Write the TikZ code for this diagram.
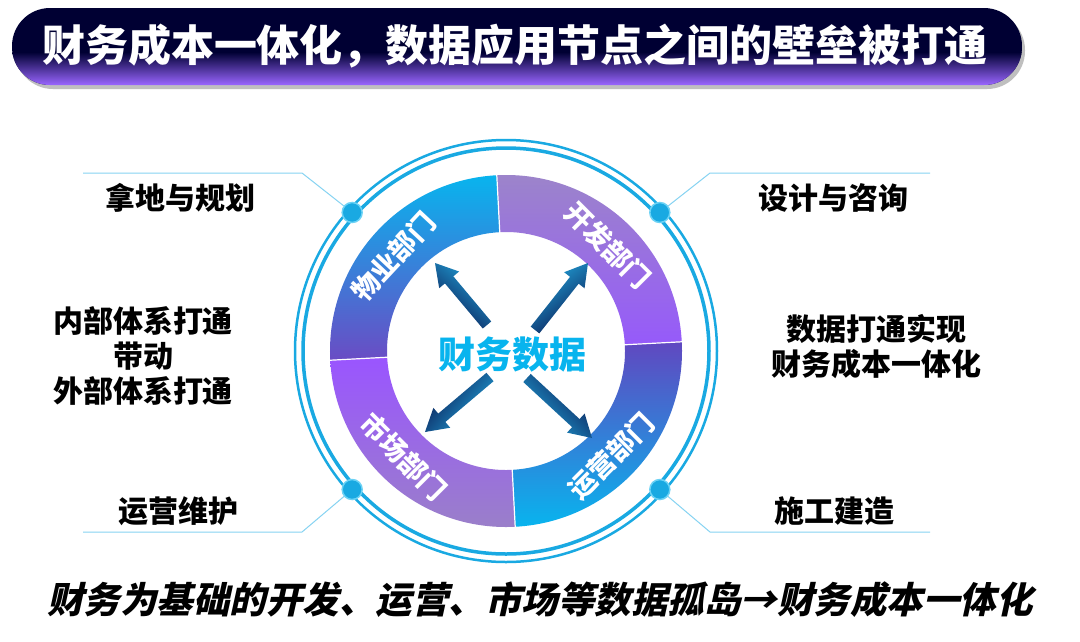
\documentclass[tikz,border=0pt]{standalone}
\usepackage{fontspec}
\newfontfamily\cjk{Noto Sans CJK SC}
\newfontfamily\cjkit[FakeSlant=0.22]{Noto Sans CJK SC}
\usetikzlibrary{calc}
\definecolor{navy}{HTML}{000033}
\definecolor{tpurple}{HTML}{9A66FF}
\definecolor{ringc}{HTML}{19A9E2}
\definecolor{linec}{HTML}{86D3F2}
\definecolor{cy}{HTML}{08B4EE}
\definecolor{arrdark}{HTML}{0A1650}
\definecolor{arrcy}{HTML}{22A8DE}
\tikzset{
  side/.style={font=\cjk\bfseries\fontsize{30}{35}\selectfont, align=center, text=black},
  seglabel/.style={font=\cjk\bfseries\fontsize{27}{27}\selectfont, text=white},
  conn/.style={draw=linec, line width=1pt},
  dotn/.style={circle, fill=ringc, draw=cy!60!white, line width=1.5pt, minimum size=20pt, inner sep=0pt},
}
\newcommand{\fatarrow}[4]{%
  \coordinate (#1a) at #2; \coordinate (#1b) at #3;
  \coordinate (#1h) at ($(#1b)!22pt!(#1a)$);
  \shade[top color=arrcy, bottom color=arrdark, shading angle=#4]
    ($(#1a)!5.5pt!90:(#1b)$) -- ($(#1h)!5.5pt!-90:(#1a)$) -- ($(#1h)!13pt!-90:(#1a)$) -- (#1b)
    -- ($(#1h)!13pt!90:(#1a)$) -- ($(#1h)!5.5pt!90:(#1a)$) -- ($(#1a)!5.5pt!-90:(#1b)$) -- cycle;
}
\begin{document}
\begin{tikzpicture}[x=1pt,y=-1pt]
\useasboundingbox[fill=white] (0,0) rectangle (1080,641);
% title bar
\fill[black!25] (15,12) [rounded corners=38pt] rectangle (1025,89);
\begin{scope}
  \clip[rounded corners=38pt] (12,8) rectangle (1022,85);
  \fill[navy] (12,8) rectangle (1022,85);
  \shade[top color=navy, bottom color=tpurple] (12,52) rectangle (1022,85);
\end{scope}
\node[font=\cjk\bfseries\fontsize{43}{43}\selectfont, text=white] (title) at (515,46) {财务成本一体化，数据应用节点之间的壁垒被打通};
% ring
\begin{scope}[shift={(506,351)}, y=1pt]
  \draw[ringc, line width=2.5pt] (0,0) circle (211);
  \draw[ringc, line width=3.5pt] (0,0) circle (203);
  \shade[top color={rgb,255:red,156;green,133;blue,201}, bottom color={rgb,255:red,150;green,90;blue,250}]
    (3:176) arc[start angle=3,end angle=93,radius=176] -- (93:119) arc[start angle=93,end angle=3,radius=119] -- cycle;
  \shade[top color=cy, bottom color={rgb,255:red,106;green,76;blue,196}]
    (93:176) arc[start angle=93,end angle=183,radius=176] -- (183:119) arc[start angle=183,end angle=93,radius=119] -- cycle;
  \shade[top color={rgb,255:red,154;green,85;blue,255}, bottom color={rgb,255:red,154;green,128;blue,200}]
    (183:176) arc[start angle=183,end angle=273,radius=176] -- (273:119) arc[start angle=273,end angle=183,radius=119] -- cycle;
  \shade[top color={rgb,255:red,96;green,72;blue,192}, bottom color=cy]
    (273:176) arc[start angle=273,end angle=363,radius=176] -- (363:119) arc[start angle=363,end angle=273,radius=119] -- cycle;
  \foreach \a in {3,93,183,273} \draw[white, line width=1.2pt] (\a:118) -- (\a:177);
  \node[seglabel, rotate=47] (wy) at (140:147) {物业部门};
  \node[seglabel, rotate=-45] (kf) at (46:147) {开发部门};
  \node[seglabel, rotate=-45] (sc) at (226:147) {市场部门};
  \node[seglabel, rotate=45] (yy) at (315:149) {运营部门};
  \node[dotn] (d1) at (138:207) {};
  \node[dotn] (d2) at (42:207) {};
  \node[dotn] (d3) at (222:207) {};
  \node[dotn] (d4) at (318:207) {};
\end{scope}
% arrows
\fatarrow{nw}{(487,325)}{(435,263)}{-40}
\fatarrow{ne}{(535,330)}{(588,263)}{38}
\fatarrow{sw}{(490,377)}{(425,432)}{-130}
\fatarrow{se}{(527,378)}{(592,438)}{133}
\node[font=\cjk\bfseries\fontsize{37}{37}\selectfont, text=cy] (center) at (512,355) {财务数据};
% connectors
\coordinate (b1) at (302,173); \coordinate (e1) at (83,173);
\coordinate (b2) at (710,173); \coordinate (e2) at (930,173);
\coordinate (b3) at (302,532); \coordinate (e3) at (83,532);
\coordinate (b4) at (710,532); \coordinate (e4) at (930,532);
\draw[conn] (d1) -- (b1) -- (e1);
\draw[conn] (d2) -- (b2) -- (e2);
\draw[conn] (d3) -- (b3) -- (e3);
\draw[conn] (d4) -- (b4) -- (e4);
% side texts
\node[side] (t1) at (180,198) {拿地与规划};
\node[side] (t2) at (833,198) {设计与咨询};
\node[side] (t3) at (143,356) {内部体系打通\\带动\\外部体系打通};
\node[side] (t4) at (876,347) {数据打通实现\\财务成本一体化};
\node[side] (t5) at (178,511) {运营维护};
\node[side] (t6) at (834,511) {施工建造};
\node[font=\cjkit\bfseries\fontsize{36.5}{36.5}\selectfont, text=black] (bottom) at (540,600) {财务为基础的开发、运营、市场等数据孤岛→财务成本一体化};
\end{tikzpicture}
\end{document}
